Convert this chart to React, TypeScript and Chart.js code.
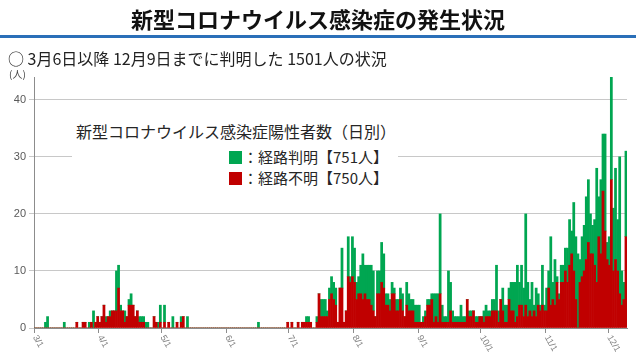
import React, { useEffect, useRef } from 'react';
import { Chart, registerables } from 'chart.js';

Chart.register(...registerables);

// ---- Data (3/1 .. 12/9, one value per day) ----
// 経路不明 (route unknown, red)
const unknownMar = [0,0,0,0,0, 0,0,0,0,0, 0,0,0,0,0, 0,0,0,0,0, 1,0,0,1,1, 0,0,1,0,1, 2];
const unknownApr = [1,2,4,1,2, 2,3,3,3,7, 3,3,1,2,4, 4,4,2,3,1, 1,1,0,0,0, 0,2,1,0,1];
const unknownMay = [0,1,0,1,0, 0,0,1,0,1, 2,0,0,0,0, 0,0,0,0,0, 0,0,0,0,0, 0,0,0,0,0, 0];
const unknownJun = [0,0,0,0,0, 0,0,0,0,0, 0,0,0,0,0, 0,0,0,0,0, 0,0,0,0,0, 0,0,0,0,1];
const unknownJul = [0,1,0,0,1, 0,1,1,1,1, 1,0,0,1,6, 2,2,2,2,5, 6,5,4,1,7, 7,1,3,9,8, 9];
const unknownAug = [8,5,6,6,5, 6,5,5,4,3, 2,6,6,8,7, 4,4,3,6,6, 3,3,5,3,2, 4,3,3,3,1, 1];
const unknownSep = [1,1,1,2,4, 4,5,1,2,1, 6,1,1,1,1, 3,1,1,1,1, 1,1,1,5,2, 2,3,1,1,2];
const unknownOct = [2,1,2,2,2, 3,3,3,1,5, 3,1,1,5,3, 3,1,2,4,4, 2,4,2,3,2, 3,2,4,3,4, 3];
const unknownNov = [3,7,4,5,4, 8,5,8,8,10, 8,11,13,10,5, 0,8,9,10,12, 15,13,13,11,8, 16,13,24,17,12];
const unknownDec = [11,26,10,12,10,6,4,5,16];

// 経路判明 (route known, green)
const knownMar = [0,0,0,0,0, 1,2,0,0,0, 0,0,0,0,1, 0,0,0,0,0, 0,0,0,0,0, 0,1,0,3,0, 0];
const knownApr = [0,0,0,1,0, 1,0,0,7,4, 1,0,2,0,1, 2,0,0,0,1, 1,1,1,1,0, 0,0,0,1,3];
const knownMay = [0,3,0,0,0, 2,0,0,0,1, 0,0,2,0,0, 0,0,0,0,0, 0,0,0,0,0, 0,0,0,0,0, 0];
const knownJun = [0,0,0,0,0, 0,0,0,0,0, 0,0,0,0,0, 1,0,0,0,0, 0,0,0,0,0, 0,0,0,0,0];
const knownJul = [0,0,0,0,0, 0,0,0,1,1, 0,0,0,1,0, 3,3,3,1,2, 3,3,3,0,0, 7,0,0,7,1, 7];
const knownAug = [6,3,3,5,8, 5,6,6,7,7, 0,4,4,7,6, 2,2,2,2,1, 2,2,2,3,0, 4,3,2,2,3, 3];
const knownSep = [3,0,1,1,1, 1,1,5,4,5, 14,3,1,1,9, 5,2,1,1,1, 3,1,1,0,1, 1,0,1,1,0];
const knownOct = [0,2,2,1,1, 2,2,8,2,0, 4,3,3,2,5, 5,7,9,4,7, 5,16,6,2,6, 1,5,2,1,7, 1];
const knownNov = [4,3,12,3,8, 1,1,3,3,4, 6,8,4,12,11, 13,4,7,8,11, 11,7,5,8,20, 7,13,10,17,3];
const knownDec = [5,18,11,16,9,24,6,3,15];

const unknownCases = [
  ...unknownMar, ...unknownApr, ...unknownMay, ...unknownJun, ...unknownJul,
  ...unknownAug, ...unknownSep, ...unknownOct, ...unknownNov, ...unknownDec,
];
const knownCases = [
  ...knownMar, ...knownApr, ...knownMay, ...knownJun, ...knownJul,
  ...knownAug, ...knownSep, ...knownOct, ...knownNov, ...knownDec,
];

// Category labels: every day from 3/1 to 12/9
const dayLabels: string[] = Array.from({ length: unknownCases.length }, (_, i) => {
  const d = new Date(2020, 2, 1 + i);
  return `${d.getMonth() + 1}/${d.getDate()}`;
});
const yTicks = [0, 10, 20, 30, 40];

const titleText = '新型コロナウイルス感染症の発生状況';
const subtitleText = '○ 3月6日以降 12月9日までに判明した 1501人の状況';
const unitText = '(人)';
const legendTitle = '新型コロナウイルス感染症陽性者数（日別）';
const knownLabel = '：経路判明【751人】';
const unknownLabel = '：経路不明【750人】';

const GREEN = '#00a651';
const RED = '#c00000';
const JP = '"Noto Sans CJK JP", "Noto Sans", sans-serif';

const monthLabelPlugin = {
  id: 'monthLabels',
  afterDraw(chart: any) {
    const xs = chart.scales.x;
    const ctx = chart.ctx;
    const slot = xs.width / dayLabels.length;
    ctx.save();
    ctx.font = '9px "Liberation Sans", Arial, sans-serif';
    ctx.fillStyle = '#808080';
    dayLabels.forEach((lab, i) => {
      if (!lab.endsWith('/1') || lab.length > 4 && !lab.startsWith('1')) return;
      if (!/\/1$/.test(lab)) return;
      const x = xs.getPixelForValue(i) - slot / 2;
      ctx.save();
      ctx.translate(x + 1, xs.top + 8);
      ctx.rotate(Math.PI / 3);
      ctx.textAlign = 'left';
      ctx.textBaseline = 'middle';
      ctx.fillText(lab, 0, 0);
      ctx.restore();
    });
    ctx.restore();
  },
};

export default function App() {
  const canvasRef = useRef<HTMLCanvasElement | null>(null);

  useEffect(() => {
    if (!canvasRef.current) return;
    const chart = new Chart(canvasRef.current, {
      type: 'bar',
      data: {
        labels: dayLabels,
        datasets: [
          {
            label: '経路不明',
            data: unknownCases,
            backgroundColor: RED,
            borderWidth: 0,
            barPercentage: 1,
            categoryPercentage: 1,
          },
          {
            label: '経路判明',
            data: knownCases,
            backgroundColor: GREEN,
            borderWidth: 0,
            barPercentage: 1,
            categoryPercentage: 1,
          },
        ],
      },
      options: {
        responsive: false,
        animation: false,
        devicePixelRatio: 1,
        layout: { padding: { top: 77, right: 9, left: 0, bottom: 0 } },
        plugins: { legend: { display: false }, tooltip: { enabled: false }, title: { display: false } },
        scales: {
          x: {
            type: 'category',
            stacked: true,
            offset: true,
            grid: {
              offset: true,
              drawOnChartArea: false,
              drawTicks: true,
              tickLength: 5,
              color: (c: any) =>
                c.index !== undefined && /\/1$/.test(dayLabels[c.index] || '') ? '#8c8c8c' : 'rgba(0,0,0,0)',
            },
            border: { display: true, color: '#8c8c8c', width: 1 },
            ticks: { display: false, autoSkip: false },
            afterFit: (s: any) => {
              s.height = 26;
            },
          },
          y: {
            stacked: true,
            min: 0,
            max: 44,
            afterBuildTicks: (s: any) => {
              s.ticks = yTicks.map((v) => ({ value: v }));
            },
            afterFit: (s: any) => {
              s.width = 34;
            },
            grid: { color: '#c8c8c8', lineWidth: 1, drawTicks: true, tickLength: 5 },
            border: { display: true, color: '#8c8c8c', width: 1 },
            ticks: {
              color: '#595959',
              font: { size: 11, family: '"Liberation Sans", Arial, sans-serif' },
              padding: 3,
            },
          },
        },
      },
      plugins: [monthLabelPlugin],
    });
    return () => chart.destroy();
  }, []);

  return (
    <div style={{ position: 'fixed', left: 0, top: 0, width: 636, height: 354, background: '#fff', overflow: 'hidden' }}>
      <canvas ref={canvasRef} width={636} height={354} style={{ position: 'absolute', left: 0, top: 0, width: 636, height: 354 }} />
      <div style={{ position: 'absolute', left: 0, top: 7, width: 636, textAlign: 'center', fontFamily: JP, fontWeight: 700, fontSize: 22, lineHeight: '22px', color: '#111' }}>
        {titleText}
      </div>
      <div style={{ position: 'absolute', left: 0, top: 35, width: 636, height: 3, background: '#2a6fb8' }} />
      <div style={{ position: 'absolute', left: 8, top: 50, fontFamily: JP, fontSize: 16, lineHeight: '16px', color: '#222', whiteSpace: 'nowrap' }}>
        {subtitleText}
      </div>
      <div style={{ position: 'absolute', left: 9, top: 69, fontFamily: JP, fontSize: 10, lineHeight: '10px', color: '#444' }}>
        {unitText}
      </div>
      <div style={{ position: 'absolute', left: 72, top: 116, width: 326, height: 76, background: '#fff' }} />
      <div style={{ position: 'absolute', left: 76, top: 123, fontFamily: JP, fontSize: 16, lineHeight: '16px', color: '#262626', whiteSpace: 'nowrap' }}>
        {legendTitle}
      </div>
      <div style={{ position: 'absolute', right: 248, top: 149, fontFamily: JP, fontSize: 15, lineHeight: '16px', color: '#262626', whiteSpace: 'nowrap', display: 'flex', alignItems: 'center' }}>
        <span style={{ display: 'inline-block', width: 13, height: 13, background: GREEN, marginRight: 1 }} />
        <span>{knownLabel}</span>
      </div>
      <div style={{ position: 'absolute', right: 248, top: 170, fontFamily: JP, fontSize: 15, lineHeight: '16px', color: '#262626', whiteSpace: 'nowrap', display: 'flex', alignItems: 'center' }}>
        <span style={{ display: 'inline-block', width: 13, height: 13, background: RED, marginRight: 1 }} />
        <span>{unknownLabel}</span>
      </div>
    </div>
  );
}
